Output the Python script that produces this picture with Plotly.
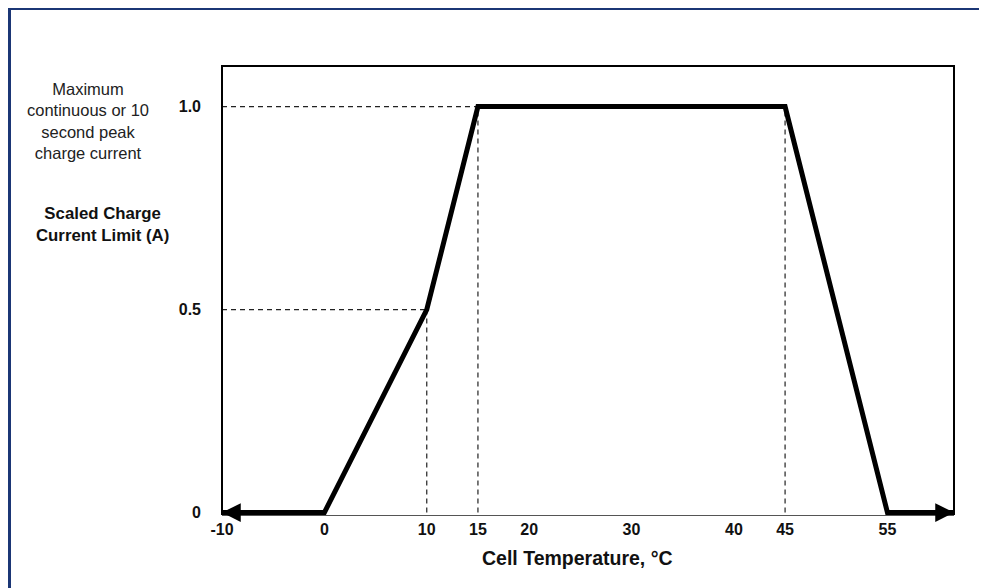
import plotly.graph_objects as go

# ---- data ----
temp_c = [-10, 0, 10, 15, 45, 55, 61.5]          # cell temperature (°C), last point = axis end
current_limit = [0, 0, 0.5, 1.0, 1.0, 0, 0]      # scaled charge current limit

x_tick_vals = [-10, 0, 10, 15, 20, 30, 40, 45, 55]
x_tick_text = ["-10", "0", "10", "15", "20", "30", "40", "45", "55"]
y_tick_vals = [0, 0.5, 1.0]
y_tick_text = ["0", "0.5", "1.0"]

# guide lines: (x0, y0, x1, y1)
guide_h = [(-10, 1.0, 15, 1.0), (-10, 0.5, 10, 0.5)]
guide_v = [(10, 0, 10, 0.5), (15, 0, 15, 1.0), (45, 0, 45, 1.0)]

x_range = [-10, 61.5]
y_range = [-0.006, 1.1]

FONT = "Liberation Sans, Arial, sans-serif"

fig = go.Figure()

# dashed guide lines
for (x0, y0, x1, y1) in guide_h + guide_v:
    fig.add_trace(go.Scatter(
        x=[x0, x1], y=[y0, y1], mode="lines",
        line=dict(color="#222222", width=1.2, dash="5px,4px"),
        hoverinfo="skip", showlegend=False))

# main curve
fig.add_trace(go.Scatter(
    x=temp_c, y=current_limit, mode="lines",
    line=dict(color="black", width=5),
    showlegend=False))

# arrow heads at both ends
for tip, tail in ((0, 1), (-1, -2)):
    fig.add_annotation(x=temp_c[tip], y=current_limit[tip],
                       ax=temp_c[tail], ay=current_limit[tail],
                       xref="x", yref="y", axref="x", ayref="y", text="",
                       showarrow=True, arrowhead=2, arrowsize=1.5, arrowwidth=2.5,
                       arrowcolor="black")

# text labels
fig.add_annotation(text="Maximum<br>continuous or 10<br>second peak<br>charge current",
                   xref="paper", yref="paper", x=-0.183, y=0.877,
                   xanchor="center", yanchor="middle", align="center", showarrow=False,
                   font=dict(family=FONT, size=16.5, color="#222222"))
fig.add_annotation(text="<b>Scaled Charge<br>Current Limit (A)</b>",
                   xref="paper", yref="paper", x=-0.1626, y=0.646,
                   xanchor="center", yanchor="middle", align="center", showarrow=False,
                   font=dict(family=FONT, size=16.8, color="#111111"))
fig.add_annotation(text="<b>Cell Temperature, °C</b>",
                   xref="paper", yref="paper", x=0.485, y=-0.0958,
                   xanchor="center", yanchor="middle", showarrow=False,
                   font=dict(family=FONT, size=19.5, color="#111111"))

# plot box (top, left, right) and page border
fig.add_shape(type="path", xref="paper", yref="paper",
              path="M 0,0 L 0,1 L 1,1 L 1,0",
              line=dict(color="black", width=2))
fig.add_shape(type="path", xref="paper", yref="paper",
              path="M -0.2903,-0.3 L -0.2903,1.128 L 1.1,1.128",
              line=dict(color="#1b3675", width=3))

fig.update_xaxes(range=x_range, tickvals=x_tick_vals, ticktext=x_tick_text,
                 showgrid=False, zeroline=False, showline=True,
                 linecolor="#555555", linewidth=1, ticks="",
                 tickfont=dict(family=FONT, size=16, color="#111111", weight="bold"))
fig.update_yaxes(range=y_range, tickvals=y_tick_vals, ticktext=y_tick_text,
                 showgrid=False, zeroline=False, showline=False, ticks="",
                 ticklabelstandoff=20,
                 tickfont=dict(family=FONT, size=16, color="#111111", weight="bold"))

# page body has an 8px default margin, so the figure is 8px smaller
fig.update_layout(width=979, height=580,
                  margin=dict(l=214, r=33, t=58, b=73, autoexpand=False),
                  plot_bgcolor="white", paper_bgcolor="white",
                  showlegend=False)

fig.write_html("out.html")
